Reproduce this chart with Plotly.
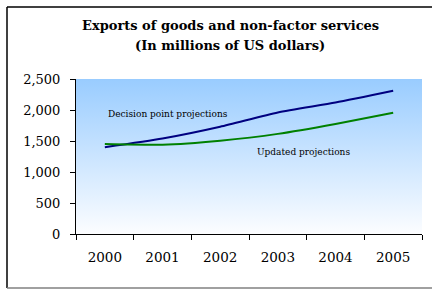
import plotly.graph_objects as go
import base64

years = ["2000", "2001", "2002", "2003", "2004", "2005"]
decision_point = [1400, 1540, 1730, 1960, 2120, 2310]
updated = [1450, 1440, 1505, 1615, 1775, 1955]
y_ticks = [0, 500, 1000, 1500, 2000, 2500]

W, H = 432, 289
L, R, T, B = 76, 10, 79, 55
pw, ph = W - L - R, H - T - B

def px_x(x):
    return (x - L) / pw

def px_y(y):
    return (H - B - y) / ph

fig = go.Figure()
fig.add_trace(go.Scatter(x=years, y=decision_point, mode="lines",
                         line=dict(color="#000080", width=2, shape="spline", smoothing=0.6),
                         name="Decision point projections", showlegend=False))
fig.add_trace(go.Scatter(x=years, y=updated, mode="lines",
                         line=dict(color="#008000", width=2, shape="spline", smoothing=0.6),
                         name="Updated projections", showlegend=False))

svg = ('<svg xmlns="http://www.w3.org/2000/svg" width="100" height="100" preserveAspectRatio="none">'
       '<defs><linearGradient id="g" x1="0" y1="0" x2="0" y2="1">'
       '<stop offset="0" stop-color="#99CCFF"/><stop offset="1" stop-color="#FCFDFF"/>'
       '</linearGradient></defs><rect width="100" height="100" fill="url(#g)"/></svg>')
src = "data:image/svg+xml;base64," + base64.b64encode(svg.encode()).decode()

serif = "DejaVu Serif"

fig.update_layout(
    width=W, height=H,
    margin=dict(l=L, r=R, t=T, b=B),
    paper_bgcolor="white", plot_bgcolor="rgba(0,0,0,0)",
    font=dict(family=serif, color="black", size=13),
    images=[dict(source=src, xref="paper", yref="paper", x=0, y=1, sizex=1, sizey=1,
                 sizing="stretch", layer="below", xanchor="left", yanchor="top")],
    xaxis=dict(type="category", range=[-0.5, 5.5], tickson="boundaries", showline=True,
               linecolor="black", linewidth=1, ticks="outside", ticklen=5, tickcolor="black",
               showgrid=False, zeroline=False, tickfont=dict(size=13.5, family=serif),
               ticklabelstandoff=11),
    yaxis=dict(range=[0, 2500], tickvals=y_ticks, tickformat=",", showline=True,
               linecolor="black", linewidth=1, ticks="outside", ticklen=5, tickcolor="black",
               showgrid=False, zeroline=False, tickfont=dict(size=13, family=serif),
               ticklabelstandoff=7),
    annotations=[
        dict(text="<b>Exports of goods and non-factor services</b>", xref="paper", yref="paper",
             x=px_x(230), y=px_y(26), showarrow=False, font=dict(size=13, family=serif),
             xanchor="center", yanchor="middle"),
        dict(text="<b>(In millions of US dollars)</b>", xref="paper", yref="paper",
             x=px_x(230), y=px_y(45), showarrow=False, font=dict(size=13, family=serif),
             xanchor="center", yanchor="middle"),
        dict(text="Decision point projections", xref="paper", yref="paper",
             x=px_x(106), y=px_y(114), showarrow=False, font=dict(size=9, family=serif),
             xanchor="left", yanchor="middle"),
        dict(text="Updated projections", xref="paper", yref="paper",
             x=px_x(255), y=px_y(152), showarrow=False, font=dict(size=9, family=serif),
             xanchor="left", yanchor="middle"),
    ],
    shapes=[
        dict(type="line", xref="paper", yref="paper", x0=px_x(7), x1=px_x(445),
             y0=px_y(7), y1=px_y(7), line=dict(color="black", width=1.5)),
        dict(type="line", xref="paper", yref="paper", x0=px_x(7), x1=px_x(7),
             y0=px_y(7), y1=px_y(288), line=dict(color="black", width=1.5)),
        dict(type="line", xref="paper", yref="paper", x0=px_x(7), x1=px_x(445),
             y0=px_y(288), y1=px_y(288), line=dict(color="#808080", width=1.5)),
    ],
)

fig.write_html("out.html", config={"displayModeBar": False},
               post_script="document.body.style.margin='0';document.body.style.padding='0';")
